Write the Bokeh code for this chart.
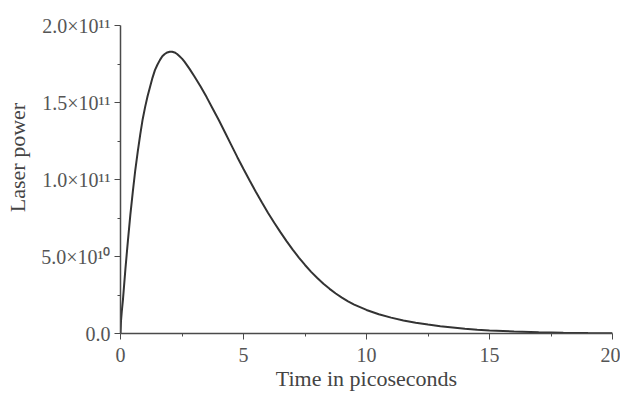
from bokeh.plotting import figure
from bokeh.models import Range1d, FixedTicker
from bokeh.embed import file_html
from bokeh.resources import INLINE

# Data (power in units of 1e11 W)
time_ps = [0.0, 0.02, 0.05, 0.1, 0.2, 0.3, 0.4, 0.5, 0.6, 0.7, 0.8, 0.9, 1.0, 1.1,
           1.2, 1.3, 1.4, 1.5, 1.6, 1.7, 1.8, 1.9, 2.0, 2.1, 2.2, 2.3, 2.4, 2.5,
           2.6, 2.8, 3.0, 3.25, 3.5, 3.75, 4.0, 4.25, 4.5, 4.75, 5.0, 5.25, 5.5,
           5.75, 6.0, 6.25, 6.5, 6.75, 7.0, 7.25, 7.5, 7.75, 8.0, 8.25, 8.5, 8.75,
           9.0, 9.25, 9.5, 10.0, 10.5, 11.0, 11.5, 12.0, 12.5, 13.0, 13.5, 14.0,
           14.5, 15.0, 16.0, 17.0, 18.0, 19.0, 20.0]
power_e11 = [0.0, 0.08, 0.14, 0.22, 0.42, 0.60, 0.77, 0.92, 1.06, 1.18, 1.29, 1.39,
             1.47, 1.54, 1.60, 1.66, 1.71, 1.745, 1.775, 1.80, 1.815, 1.825, 1.83,
             1.83, 1.825, 1.815, 1.80, 1.785, 1.765, 1.72, 1.67, 1.605, 1.535,
             1.46, 1.385, 1.305, 1.225, 1.145, 1.068, 0.993, 0.92, 0.85, 0.783,
             0.719, 0.658, 0.60, 0.545, 0.493, 0.445, 0.40, 0.36, 0.323, 0.29,
             0.26, 0.233, 0.209, 0.188, 0.153, 0.125, 0.103, 0.085, 0.07, 0.058,
             0.047, 0.039, 0.031, 0.025, 0.02, 0.013, 0.008, 0.005, 0.003, 0.002]
power = [v * 1e11 for v in power_e11]

x_ticks = [0, 5, 10, 15, 20]
x_minor = [2.5, 7.5, 12.5, 17.5]
y_ticks = [0.0, 5e10, 1e11, 1.5e11, 2e11]
y_minor = [2.5e10, 7.5e10, 1.25e11, 1.75e11]
y_tick_labels = ["0.0", "5.0×10¹⁰", "1.0×10¹¹", "1.5×10¹¹", "2.0×10¹¹"]

FONT = "Liberation Serif"
TXT = "#555555"
AX = "#4a4a4a"

p = figure(width=620, height=393, output_backend="svg", toolbar_location=None,
           x_range=Range1d(0, 20), y_range=Range1d(0, 2e11),
           min_border_left=120, min_border_right=8, min_border_top=25,
           min_border_bottom=60)
p.outline_line_color = None
p.grid.grid_line_color = None
p.background_fill_color = "white"
p.border_fill_color = "white"

p.line(time_ps, power, line_color="#333333", line_width=2)

p.xaxis.ticker = FixedTicker(ticks=x_ticks, minor_ticks=x_minor)
p.yaxis.ticker = FixedTicker(ticks=y_ticks, minor_ticks=y_minor)
p.yaxis.major_label_overrides = {t: s for t, s in zip(y_ticks, y_tick_labels)}

for ax in (p.xaxis[0], p.yaxis[0]):
    ax.axis_line_color = AX
    ax.axis_line_width = 1.5
    ax.major_tick_line_color = AX
    ax.minor_tick_line_color = AX
    ax.major_tick_in = 0
    ax.major_tick_out = 6
    ax.minor_tick_in = 0
    ax.minor_tick_out = 3
    ax.major_label_text_font = FONT
    ax.major_label_text_font_size = "20px"
    ax.major_label_text_color = TXT
    ax.axis_label_text_font = FONT
    ax.axis_label_text_font_size = "22px"
    ax.axis_label_text_color = "#444444"
    ax.axis_label_text_font_style = "normal"

p.xaxis.axis_label = "Time in picoseconds"
p.yaxis.axis_label = "\u00a0" * 8 + "Laser power"
p.xaxis.major_label_standoff = 8
p.xaxis.axis_label_standoff = 1
p.yaxis.major_label_standoff = 4
p.yaxis.axis_label_standoff = 8

open("out.html", "w").write(file_html(p, INLINE))
